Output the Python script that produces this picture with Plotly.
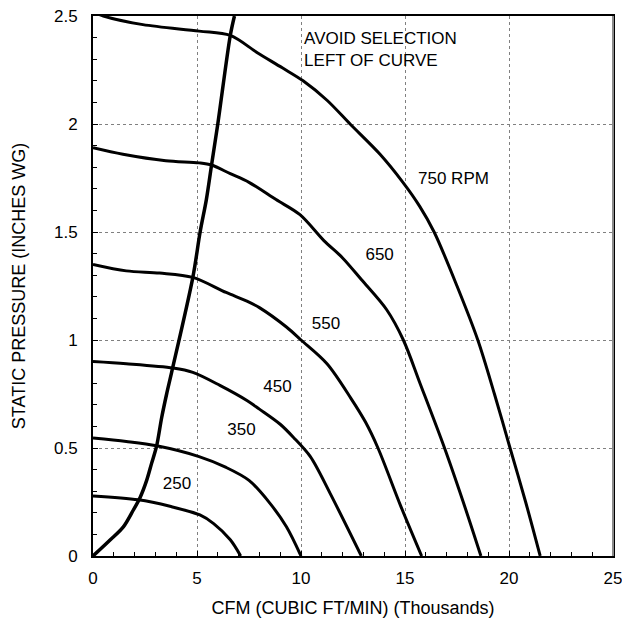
import plotly.graph_objects as go

# ---- data ----
rpm_750_x = [0, 0.5, 2.4, 5.1, 6.6, 7.9, 9.1, 10.1, 11.25, 12.36, 13.8, 14.9, 15.7, 16.4, 17.5, 18.5, 19.3, 20.05, 20.8, 21.5]
rpm_750_y = [2.52, 2.5, 2.46, 2.43, 2.41, 2.33, 2.26, 2.2, 2.11, 2.0, 1.86, 1.73, 1.62, 1.5, 1.25, 1.0, 0.75, 0.5, 0.25, 0]

rpm_650_x = [0, 1.44, 3.5, 5.1, 5.7, 6.6, 7.5, 8.8, 9.95, 11.1, 12.0, 12.9, 14.12, 14.92, 15.72, 16.9, 17.8, 18.65]
rpm_650_y = [1.89, 1.86, 1.83, 1.82, 1.81, 1.77, 1.73, 1.65, 1.58, 1.46, 1.38, 1.28, 1.14, 1.0, 0.8, 0.5, 0.25, 0]

rpm_550_x = [0, 1.6, 3.2, 4.8, 6.4, 7.4, 8.0, 9.3, 10.0, 11.25, 12.4, 13.1, 13.7, 14.8, 15.8]
rpm_550_y = [1.35, 1.32, 1.31, 1.29, 1.22, 1.18, 1.15, 1.06, 1.0, 0.89, 0.73, 0.62, 0.5, 0.23, 0]

rpm_450_x = [0, 1.6, 3.85, 4.8, 6.1, 7.4, 8.0, 9.0, 9.63, 10.45, 11.4, 12.9]
rpm_450_y = [0.90, 0.89, 0.87, 0.85, 0.79, 0.72, 0.68, 0.61, 0.55, 0.46, 0.29, 0]

rpm_350_x = [0, 1.6, 3.06, 5.1, 6.4, 7.5, 8.5, 9.3, 10.0]
rpm_350_y = [0.546, 0.53, 0.51, 0.46, 0.41, 0.35, 0.245, 0.135, 0]

rpm_250_x = [0, 2.18, 3.7, 5.14, 5.8, 6.6, 7.1]
rpm_250_y = [0.278, 0.26, 0.23, 0.19, 0.15, 0.075, 0]

limit_x = [0, 0.82, 1.46, 1.94, 2.26, 2.58, 2.82, 3.06, 3.3, 3.54, 3.78, 4.8, 5.15, 5.45, 5.7, 6.0, 6.6, 6.8]
limit_y = [0, 0.074, 0.135, 0.213, 0.27, 0.35, 0.43, 0.51, 0.64, 0.75, 0.85, 1.29, 1.5, 1.65, 1.81, 2.0, 2.41, 2.5]

label_text = ["750 RPM", "650", "550", "450", "350", "250"]
label_x = [17.33, 13.78, 11.2, 8.87, 7.14, 4.04]
label_y = [1.74, 1.39, 1.07, 0.78, 0.58, 0.33]

note_text = ["AVOID SELECTION", "LEFT OF CURVE"]
note_x = [10.15, 10.15]
note_y = [2.39, 2.29]

x_ticks = [0, 5, 10, 15, 20, 25]
y_ticks = [0, 0.5, 1, 1.5, 2, 2.5]
y_tick_text = ["0", "0.5", "1", "1.5", "2", "2.5"]

FONT = "Liberation Sans, Arial, sans-serif"

fig = go.Figure()
curves = [(rpm_750_x, rpm_750_y), (rpm_650_x, rpm_650_y), (rpm_550_x, rpm_550_y),
          (rpm_450_x, rpm_450_y), (rpm_350_x, rpm_350_y), (rpm_250_x, rpm_250_y)]
for cx, cy in curves:
    fig.add_trace(go.Scatter(x=cx, y=cy, mode="lines",
                             line=dict(color="black", width=3, shape="spline", smoothing=0.9),
                             hoverinfo="skip", showlegend=False))
fig.add_trace(go.Scatter(x=limit_x, y=limit_y, mode="lines",
                         line=dict(color="black", width=3.5, shape="spline", smoothing=0.9),
                         hoverinfo="skip", showlegend=False))

fig.add_trace(go.Scatter(x=label_x, y=label_y, mode="text", text=label_text,
                         textposition="middle center",
                         textfont=dict(family=FONT, size=17, color="black"),
                         hoverinfo="skip", showlegend=False, cliponaxis=False))
fig.add_trace(go.Scatter(x=note_x, y=note_y, mode="text", text=note_text,
                         textposition="middle right",
                         textfont=dict(family=FONT, size=17, color="black"),
                         hoverinfo="skip", showlegend=False, cliponaxis=False))

fig.update_layout(
    width=622, height=620,
    margin=dict(l=93, r=9, t=16, b=64),
    paper_bgcolor="white", plot_bgcolor="white",
    font=dict(family=FONT, size=17, color="black"),
    showlegend=False,
    shapes=[dict(type="line", xref="paper", yref="paper", x0=1, x1=1, y0=0, y1=1,
                 line=dict(color="#8a8a8a", width=2))],
)
fig.update_xaxes(
    range=[0, 25], tickvals=x_ticks, ticks="inside", ticklen=5, tickcolor="black",
    showline=True, linecolor="black", linewidth=2, mirror=True,
    showgrid=True, gridcolor="#808080", griddash="dot", gridwidth=1,
    zeroline=False, automargin=False, ticklabeloverflow="allow", ticklabelstandoff=6,
    minor=dict(dtick=1, ticks="inside", ticklen=4, tickcolor="black", showgrid=False),
    tickfont=dict(family=FONT, size=17, color="black"),
    title=dict(text="CFM (CUBIC FT/MIN) (Thousands)", font=dict(family=FONT, size=18, color="black"), standoff=14),
)
fig.update_yaxes(
    range=[0, 2.5], tickvals=y_ticks, ticktext=y_tick_text, ticks="inside", ticklen=5, tickcolor="black",
    showline=True, linecolor="black", linewidth=2, mirror=True,
    showgrid=True, gridcolor="#808080", griddash="dot", gridwidth=1,
    zeroline=False, automargin=False, ticklabeloverflow="allow", ticklabelstandoff=10,
    minor=dict(dtick=0.1, ticks="inside", ticklen=4, tickcolor="black", showgrid=False),
    tickfont=dict(family=FONT, size=17, color="black"),
    title=dict(text="STATIC PRESSURE (INCHES WG)", font=dict(family=FONT, size=18, color="black"), standoff=24),
)

fig.write_html("out.html", config={"displayModeBar": False},
               post_script="document.body.style.margin='0';document.body.style.overflow='hidden';")
